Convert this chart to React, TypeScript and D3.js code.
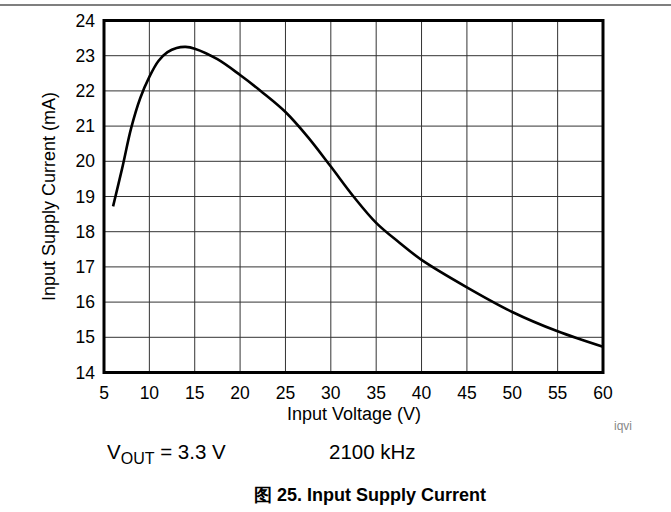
import React from "react";
import * as d3 from "d3";

const voltage = [6, 7, 8, 9, 10, 11, 12, 13, 14, 15, 17.5, 20, 22.5, 25, 27.5, 30, 32.5, 35, 37.5, 40, 45, 50, 55, 60];
const current = [18.72, 19.8, 20.95, 21.8, 22.4, 22.85, 23.1, 23.22, 23.25, 23.2, 22.9, 22.45, 21.95, 21.4, 20.68, 19.85, 19.0, 18.25, 17.7, 17.2, 16.42, 15.72, 15.17, 14.73];
const xTicks = [5, 10, 15, 20, 25, 30, 35, 40, 45, 50, 55, 60];
const yTicks = [14, 15, 16, 17, 18, 19, 20, 21, 22, 23, 24];

const W = 671;
const H = 512;
const M = { left: 104, right: 603, top: 20.5, bottom: 372.5 };
const FONT = "'Liberation Sans', Arial, sans-serif";

export default function App() {
  const x = d3.scaleLinear().domain([5, 60]).range([M.left, M.right]);
  const y = d3.scaleLinear().domain([14, 24]).range([M.bottom, M.top]);
  const line = d3
    .line<number>()
    .x((_, i) => x(voltage[i]))
    .y((d) => y(d))
    .curve(d3.curveCatmullRom.alpha(0.5));

  return (
    <svg
      width={W}
      height={H}
      style={{ position: "absolute", left: 0, top: 0, background: "#fff" }}
      fontFamily={FONT}
    >
      <line x1={0} x2={W} y1={5} y2={5} stroke="#000" strokeWidth={1.2} />
      {xTicks.slice(1, -1).map((t) => (
        <line key={"gx" + t} x1={x(t)} x2={x(t)} y1={M.top} y2={M.bottom} stroke="#333" strokeWidth={1} />
      ))}
      {yTicks.slice(1, -1).map((t) => (
        <line key={"gy" + t} x1={M.left} x2={M.right} y1={y(t)} y2={y(t)} stroke="#333" strokeWidth={1} />
      ))}
      <path d={line(current) || ""} fill="none" stroke="#000" strokeWidth={2.6} strokeLinejoin="round" />
      <rect
        x={M.left}
        y={M.top}
        width={M.right - M.left}
        height={M.bottom - M.top}
        fill="none"
        stroke="#000"
        strokeWidth={3}
      />
      {xTicks.map((t) => (
        <text key={"tx" + t} x={x(t)} y={399} textAnchor="middle" fontSize={17.5} fill="#000">
          {t}
        </text>
      ))}
      {yTicks.map((t) => (
        <text key={"ty" + t} x={95} y={y(t) + 6} textAnchor="end" fontSize={17.5} fill="#000">
          {t}
        </text>
      ))}
      <text x={354} y={420} textAnchor="middle" fontSize={18} fill="#000">
        Input Voltage (V)
      </text>
      <text
        transform={`translate(55,${(M.top + M.bottom) / 2}) rotate(-90)`}
        textAnchor="middle"
        fontSize={18}
        fill="#000"
      >
        Input Supply Current (mA)
      </text>
      <text x={614} y={430} fontSize={12} fill="#888">
        iqvi
      </text>
      <text x={107} y={459} fontSize={20.5} fill="#000">
        V<tspan fontSize={16} dy={5}>OUT</tspan>
        <tspan dy={-5}> = 3.3 V</tspan>
      </text>
      <text x={329} y={459} fontSize={20.5} fill="#000">
        2100 kHz
      </text>
      <text x={370} y={501} textAnchor="middle" fontSize={18} fontWeight="bold" fill="#000">
        图 25. Input Supply Current
      </text>
    </svg>
  );
}
